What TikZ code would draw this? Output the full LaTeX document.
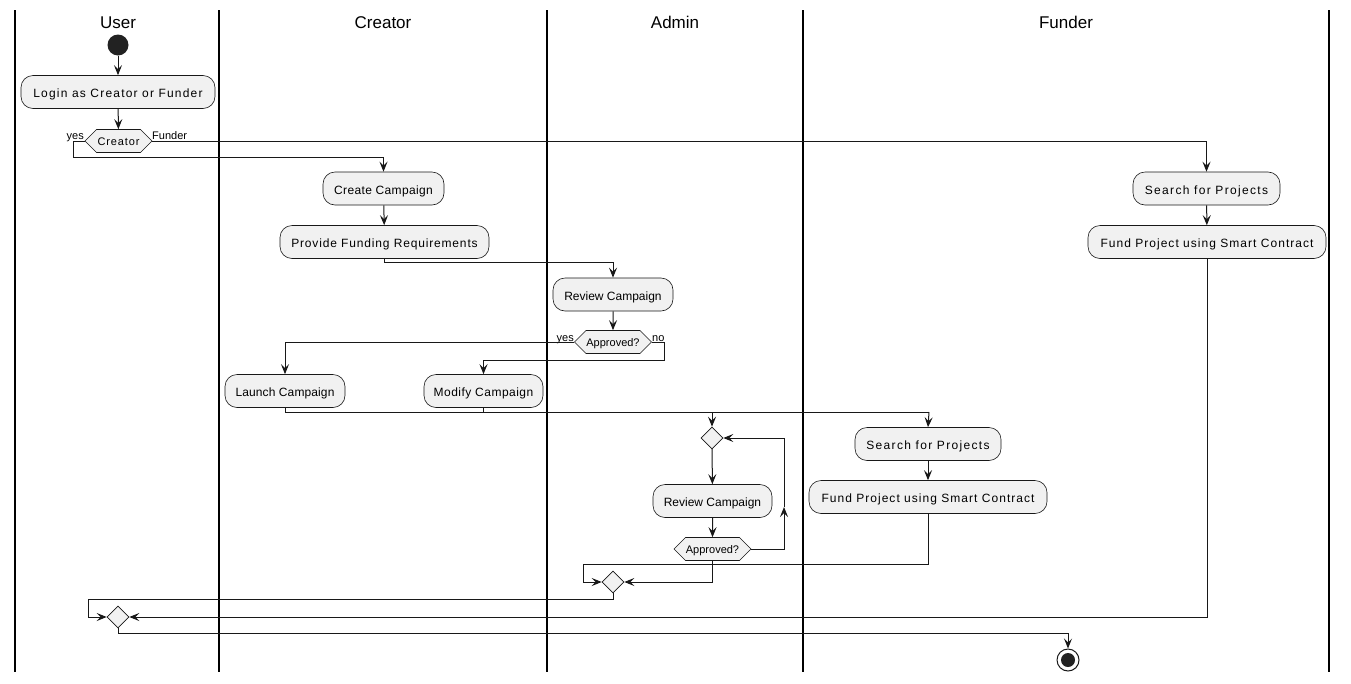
\documentclass[tikz,border=0pt]{standalone}
\usepackage{fontspec}
\setmainfont{Liberation Sans}
\usetikzlibrary{shapes.geometric,shapes.symbols,arrows.meta}
\definecolor{actfill}{HTML}{F1F1F1}
\definecolor{actline}{HTML}{181818}
\definecolor{startdot}{HTML}{222222}

\begin{document}
\begin{tikzpicture}[x=1pt,y=-1pt,
  lane/.style={line width=1.6pt, draw=black},
  hdr/.style={font=\fontsize{17}{19}\selectfont, anchor=base},
  act/.style={draw=actline, fill=actfill, line width=0.6pt, rounded corners=12pt,
    minimum height=33pt, inner xsep=2pt, inner ysep=0pt, text height=11pt, text depth=0pt},
  txt/.style={font=\fontsize{12}{14}\selectfont\addfontfeature{LetterSpace=#1}},
  hexa/.style={draw=actline, fill=actfill, line width=0.6pt, signal, signal to=west and east,
    signal pointer angle=90, minimum height=23pt, inner xsep=0pt, inner ysep=0pt,
    text height=9.5pt, text depth=0pt},
  merge/.style={draw=actline, fill=actfill, diamond, minimum width=22pt, minimum height=22pt,
    inner sep=0pt, line width=0.6pt},
  flow/.style={draw=actline, line width=1pt, -{Stealth[length=10pt,width=8pt,inset=4pt]}},
  link/.style={draw=actline, line width=1pt},
  lbl/.style={font=\fontsize{11}{13}\selectfont, inner sep=0pt},
]
\useasboundingbox (0,0) rectangle (1351,683);

% swimlane separators
\foreach \xx in {15,219,547,803,1329}
  \draw[lane] (\xx,10) -- (\xx,672);

% lane headers
\node[hdr] (hUser)    at (118,28)  {User};
\node[hdr] (hCreator) at (383,28)  {Creator};
\node[hdr] (hAdmin)   at (675,28)  {Admin};
\node[hdr] (hFunder)  at (1066,28) {Funder};

% start and end
\node[circle, fill=startdot, minimum size=21pt, inner sep=0pt] (start) at (118,45) {};
\node[circle, draw=actline, fill=white, line width=1pt, minimum size=22pt, inner sep=0pt] (stop) at (1068,660) {};
\node[circle, fill=startdot, minimum size=14pt, inner sep=0pt] (stopdot) at (1068,660) {};

% activities
\node[act, minimum width=194pt, txt=10] (login) at (118,92)    {Login as Creator or Funder};
\node[hexa, minimum width=67pt, font=\fontsize{11}{13}\selectfont\addfontfeature{LetterSpace=8}] (role) at (118.5,141) {Creator};

\node[act, minimum width=121pt, txt=3]  (cc)  at (383.5,188.5) {Create Campaign};
\node[act, minimum width=209pt, txt=7]  (pfr) at (384.5,242)   {Provide Funding Requirements};

\node[act, minimum width=120pt, txt=0]  (rc1) at (613,294.5) {Review Campaign};
\node[hexa, minimum width=77pt, font=\fontsize{11}{13}\selectfont] (ap1) at (613,342) {Approved?};

\node[act, minimum width=120pt, txt=1]  (lc)  at (285,391)   {Launch Campaign};
\node[act, minimum width=119pt, txt=4]  (mc)  at (483.5,391) {Modify Campaign};

\node[merge] (m1) at (712,438) {};
\node[act, minimum width=119pt, txt=0]  (rc2) at (712.5,501) {Review Campaign};
\node[hexa, minimum width=77pt, font=\fontsize{11}{13}\selectfont] (ap2) at (712.5,549) {Approved?};

\node[act, minimum width=146pt, txt=11] (sp2) at (928,444) {Search for Projects};
\node[act, minimum width=238pt, txt=8.6] (fp2) at (928,497) {Fund Project using Smart Contract};

\node[merge] (m2) at (613,582) {};

\node[act, minimum width=147pt, txt=11] (sp1) at (1206.5,188.5) {Search for Projects};
\node[act, minimum width=238pt, txt=8.6] (fp1) at (1207,242)   {Fund Project using Smart Contract};

\node[merge] (m3) at (118,617) {};

% branch labels
\node[lbl, anchor=base east] (yes1) at (84,139) {yes};
\node[lbl, anchor=base west] (fund1) at (152,139) {Funder};
\node[lbl, anchor=base east] (yes2) at (574,341) {yes};
\node[lbl, anchor=base west] (no2) at (652,341) {no};

% routing points
\coordinate (forkL) at (285,412);
\coordinate (forkM) at (712,412);
\coordinate (forkR) at (929,412);
\coordinate (loopup) at (784,507);

% connectors
\draw[flow] (start) -- (login);
\draw[flow] (login) -- (role);
\draw[flow] (role.west) -- (73,141) -- (73,157) -| (cc.north);
\draw[flow] (role.east) -| (sp1.north);
\draw[flow] (cc) -- (pfr);
\draw[flow] (pfr.south) -- (384.5,262) -| (rc1.north);
\draw[flow] (rc1) -- (ap1);
\draw[flow] (ap1.west) -| (lc.north);
\draw[flow] (ap1.east) -- (664,342) -- (664,360) -| (mc.north);
\draw[link] (lc.south) -- (forkL) -- (forkR);
\draw[link] (mc.south) -- (483.5,412);
\draw[flow] (forkR) -- (sp2.north);
\draw[flow] (forkM) -- (m1.north);
\draw[flow] (m1) -- (rc2);
\draw[flow] (rc2) -- (ap2);
\draw[flow] (ap2.east) -| (loopup);
\draw[flow] (loopup) |- (m1.east);
\draw[flow] (ap2.south) |- (m2.east);
\draw[flow] (sp2) -- (fp2);
\draw[flow] (fp2.south) -- (928,564) -- (583,564) |- (m2.west);
\draw[flow] (sp1) -- (fp1);
\draw[flow] (m2.south) -- (613,599) -- (88,599) |- (m3.west);
\draw[flow] (fp1.south) |- (m3.east);
\draw[flow] (m3.south) -- (118,633) -| (stop.north);
\end{tikzpicture}
\end{document}
